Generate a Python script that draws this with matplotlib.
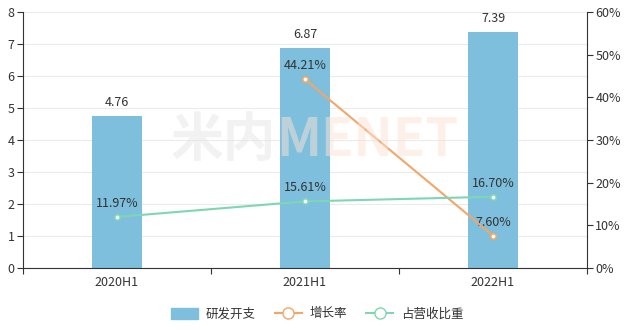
import matplotlib
matplotlib.use("Agg")
import matplotlib.pyplot as plt
from matplotlib.lines import Line2D
from matplotlib.patches import Patch
import numpy as np

plt.rcParams['font.family'] = ['Noto Sans CJK SC', 'DejaVu Sans']

categories = ["2020H1", "2021H1", "2022H1"]
rd_spend = [4.76, 6.87, 7.39]
growth = [None, 44.21, 7.60]
share = [11.97, 15.61, 16.70]
left_ticks = [0, 1, 2, 3, 4, 5, 6, 7, 8]
right_ticks = [0, 10, 20, 30, 40, 50, 60]

bar_c = "#7dbfdd"
org_c = "#f2a66a"
grn_c = "#7fd6b4"
txt_c = "#333333"
ax_c = "#333333"

fig = plt.figure(figsize=(6.34, 3.30), dpi=100)
ax = fig.add_axes([23/634, 1-268/330, (587-23)/634, (268-12)/330])
ax2 = ax.twinx()

x = np.arange(len(categories))
ax.bar(x, rd_spend, width=0.27, color=bar_c, zorder=2)
for xi, v in zip(x, rd_spend):
    ax.annotate(f"{v:.2f}", (xi, v), xytext=(0, 5), textcoords="offset points",
                ha="center", va="bottom", fontsize=9, color=txt_c)

ax.set_xlim(-0.5, 2.5)
ax.set_ylim(0, 8)
ax.set_yticks(left_ticks)
ax.grid(axis="y", color="#ebebeb", linewidth=0.8, zorder=0)
ax.set_axisbelow(True)
ax.set_xticks([-0.5, 0.5, 1.5, 2.5])
ax.set_xticklabels([])
ax.set_xticks(x, minor=True)
ax.set_xticklabels(categories, minor=True)
ax.tick_params(axis="x", which="minor", length=0, labelsize=9, labelcolor=txt_c, pad=6)
ax.tick_params(axis="x", which="major", length=4, color=ax_c)
ax.tick_params(axis="y", length=4, color=ax_c, labelsize=9, labelcolor=txt_c, pad=2)
for s in ["top", "right"]:
    ax.spines[s].set_visible(False)
ax.spines["left"].set_color(ax_c)
ax.spines["bottom"].set_color(ax_c)

gx = [xi for xi, g in zip(x, growth) if g is not None]
gy = [g for g in growth if g is not None]
ax2.plot(gx, gy, color=org_c, linewidth=1.5, marker="o", markersize=4,
         markerfacecolor="white", markeredgecolor=org_c, markeredgewidth=1.2, zorder=4)
ax2.plot(x, share, color=grn_c, linewidth=1.5, marker="o", markersize=4,
         markerfacecolor="white", markeredgecolor=grn_c, markeredgewidth=1.2, zorder=4)
for xi, v in zip(gx, gy):
    ax2.annotate(f"{v:.2f}%", (xi, v), xytext=(0, 5), textcoords="offset points",
                 ha="center", va="bottom", fontsize=9, color=txt_c)
for xi, v in zip(x, share):
    ax2.annotate(f"{v:.2f}%", (xi, v), xytext=(0, 5), textcoords="offset points",
                 ha="center", va="bottom", fontsize=9, color=txt_c)
ax2.set_ylim(0, 60)
ax2.set_yticks(right_ticks)
ax2.set_yticklabels([f"{t}%" for t in right_ticks])
ax2.tick_params(axis="y", length=4, color=ax_c, labelsize=9, labelcolor=txt_c, pad=2)
for s in ["top", "left", "bottom"]:
    ax2.spines[s].set_visible(False)
ax2.spines["right"].set_color(ax_c)

# watermark
fig.text(0.435, 0.575, "米内", fontsize=38, color="#e6e6e6", alpha=0.5,
         ha="right", va="center", fontweight="bold", zorder=0)
fig.text(0.435, 0.575, "MENET", fontsize=38, color="#fbe3d4", alpha=0.5,
         ha="left", va="center", fontweight="bold", zorder=0)

handles = [
    Patch(facecolor=bar_c, edgecolor=bar_c, label="研发开支"),
    Line2D([0], [0], color=org_c, marker="o", markersize=8, markerfacecolor="white",
           markeredgecolor=org_c, linewidth=1.5, label="增长率"),
    Line2D([0], [0], color=grn_c, marker="o", markersize=8, markerfacecolor="white",
           markeredgecolor=grn_c, linewidth=1.5, label="占营收比重"),
]
fig.legend(handles=handles, loc="center", bbox_to_anchor=(0.5, 1-314/330), ncol=3,
           frameon=False, fontsize=9, handlelength=2.2, handleheight=1.0,
           columnspacing=1.5, handletextpad=0.6, labelcolor=txt_c)

fig.savefig("out.png", dpi=100)
